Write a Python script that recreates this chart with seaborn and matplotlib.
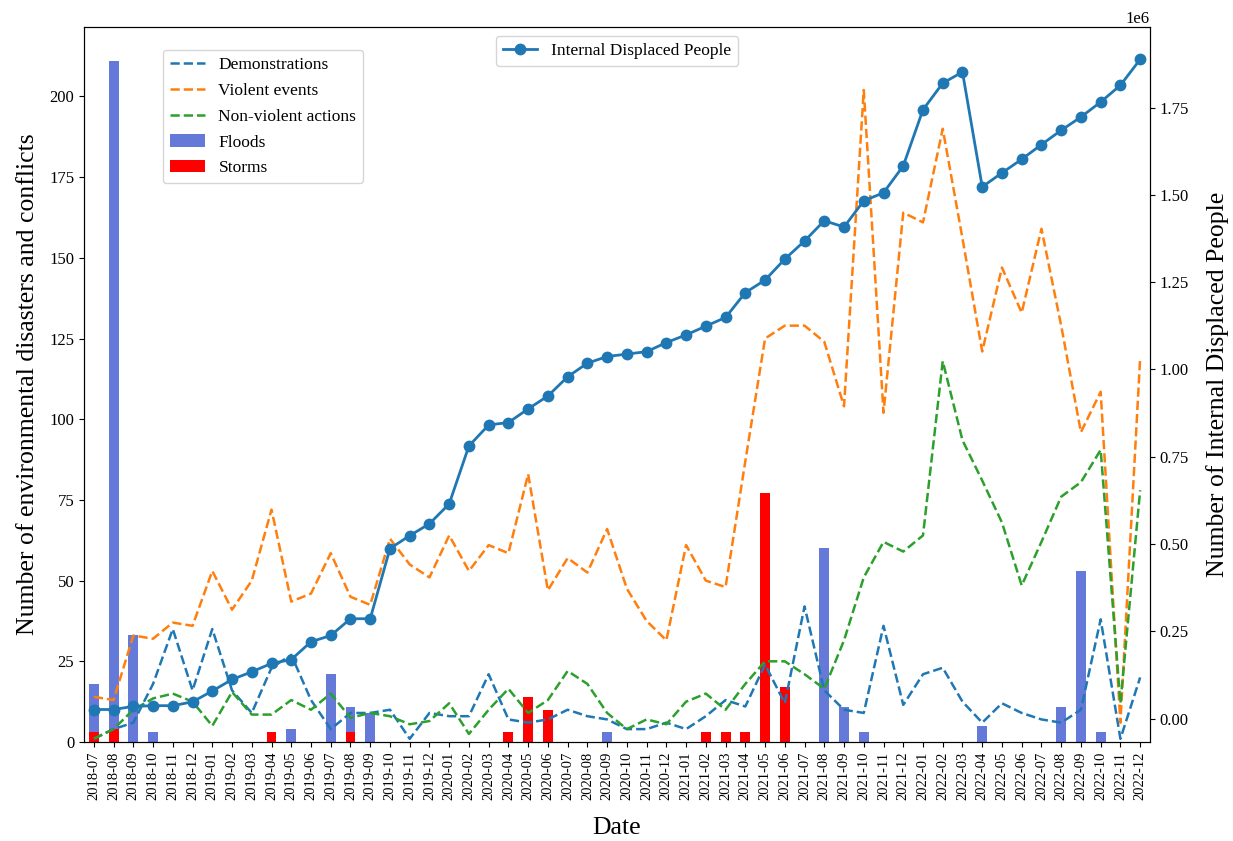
import numpy as np
import pandas as pd
import matplotlib
matplotlib.use("Agg")
import matplotlib.pyplot as plt
import seaborn as sns

plt.rcParams["font.family"] = "serif"
plt.rcParams["font.serif"] = ["Liberation Serif", "DejaVu Serif"]

# Monthly categories
dates = [d.strftime("%Y-%m") for d in pd.date_range("2018-07-01", "2022-12-01", freq="MS")]

# Conflict events per month
demonstrations = [1, 4, 6, 18, 35, 16, 35, 16, 9, 23, 27, 13, 4, 9, 9, 10, 1, 9,
                  8, 8, 21, 7, 6, 7, 10, 8, 7, 4, 4, 6, 4, 8, 13, 11, 24, 12,
                  42, 16, 10, 9, 36, 11.5, 21, 23, 12.5, 6, 12, 9, 7, 6, 10, 38, 1, 20]
violent_events = [14, 13, 33, 32, 37, 36, 53, 41, 50, 72, 43.5, 46, 58.5, 45, 42.5, 63, 55, 51,
                  64, 53, 61, 58.5, 83, 47, 57, 52.5, 66, 47.5, 37.5, 31.5, 61, 50, 48, 87, 125, 129,
                  129, 124, 104, 202, 102, 164, 161, 190, 156, 121, 147, 133, 159, 129, 96, 108.5, 6, 119]
non_violent = [1, 4, 10, 13.5, 15, 12.5, 5, 15.5, 8.5, 8.5, 13, 10, 15, 7.5, 9, 8, 5.5, 6.5,
               12, 2.5, 10, 16.5, 9, 13, 22, 18, 9, 4, 7, 5.5, 12.5, 15, 10, 18, 25, 25,
               21, 16.5, 31.5, 51, 62, 59, 64, 118, 93.5, 81, 68, 48.5, 62, 76, 80.5, 90.5, 12, 78]

# Environmental disasters per month
floods = [18, 211, 33, 3, 0, 0, 0, 0, 0, 0, 4, 0, 21, 11, 9, 0, 0, 0,
          0, 0, 0, 0, 0, 0, 0, 0, 3, 0, 0, 0, 0, 0, 0, 0, 0, 0,
          0, 60, 11, 3, 0, 0, 0, 0, 0, 5, 0, 0, 0, 11, 53, 3, 0, 0]
storms = [3, 4, 0, 0, 0, 0, 0, 0, 0, 3, 0, 0, 0, 3, 0, 0, 0, 0,
          0, 0, 0, 3, 14, 10, 0, 0, 0, 0, 0, 0, 0, 3, 3, 3, 77, 17,
          0, 0, 0, 0, 0, 0, 0, 0, 0, 0, 0, 0, 0, 0, 0, 0, 0, 0]

# Internally displaced people (cumulative)
idp = [26000, 26000, 35000, 37000, 37000, 48000, 79000, 112000, 134000, 158000, 169000, 220000,
       238000, 286000, 286000, 487000, 524000, 558000, 615000, 781000, 841000, 848000, 887000, 924000,
       979000, 1018000, 1037000, 1044000, 1051000, 1077000, 1099000, 1124000, 1149000, 1220000,
       1256000, 1316000, 1368000, 1426000, 1408000, 1483000, 1506000, 1583000, 1744000, 1820000,
       1852000, 1523000, 1563000, 1602000, 1644000, 1685000, 1723000, 1766000, 1814000, 1888000]

pos = np.arange(len(dates))

fig = plt.figure(figsize=(12.33, 8.41), dpi=100)
ax = fig.add_axes([0.0681, 0.1177, 0.8646, 0.8503])

sns.lineplot(x=pos, y=demonstrations, ax=ax, color="#1f77b4", linestyle="--",
             linewidth=1.8, label="Demonstrations", legend=False)
sns.lineplot(x=pos, y=violent_events, ax=ax, color="#ff7f0e", linestyle="--",
             linewidth=1.8, label="Violent events", legend=False)
sns.lineplot(x=pos, y=non_violent, ax=ax, color="#2ca02c", linestyle="--",
             linewidth=1.8, label="Non-violent actions", legend=False)
sns.barplot(x=pos, y=floods, ax=ax, color="#6479d8", saturation=1, width=0.5,
            native_scale=True, errorbar=None, label="Floods")
sns.barplot(x=pos, y=storms, ax=ax, color="#ff0000", saturation=1, width=0.5,
            native_scale=True, errorbar=None, label="Storms")

ax.set_xlim(-0.5, len(dates) - 0.5)
ax.set_xticks(pos)
ax.set_xticklabels(dates, rotation=90, fontsize=10.5)
ax.tick_params(axis="y", labelsize=12)
ax.set_xlabel("Date", fontsize=18.5, labelpad=12)
ax.set_ylabel("Number of environmental disasters and conflicts", fontsize=18.5, labelpad=7)

handles, labels = ax.get_legend_handles_labels()
order = ["Demonstrations", "Violent events", "Non-violent actions", "Floods", "Storms"]
hmap = dict(zip(labels, handles))
ax.legend([hmap[k] for k in order], order, loc="upper left",
          bbox_to_anchor=(0.074, 0.968), borderaxespad=0, fontsize=12.5,
          labelspacing=0.56)

ax2 = ax.twinx()
sns.lineplot(x=pos, y=idp, ax=ax2, color="#1f77b4", marker="o", markersize=8.5,
             markeredgewidth=0, linewidth=2, label="Internal Displaced People", legend=False)
ax2.set_xlim(-0.5, len(dates) - 0.5)
ax2.tick_params(axis="y", labelsize=12)
ax2.yaxis.get_offset_text().set_fontsize(12)
ax2.set_ylabel("Number of Internal Displaced People", fontsize=18.5, labelpad=12)
ax2.legend(loc="upper center", fontsize=12.5)

fig.savefig("out.png", dpi=100)
